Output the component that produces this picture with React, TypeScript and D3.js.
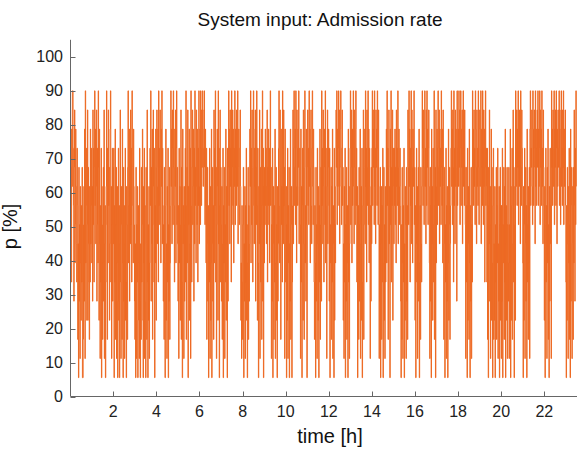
import React from "react";
import * as d3 from "d3";

// Admission-rate level (1..16) sampled once per minute; p = level * LEVEL_STEP_PCT
const LEVEL_STEP_PCT = 90 / 16;
const SAMPLES_PER_HOUR = 60;

const h00_02 = [
15,9,12,6,14,11,16,16,13,10,5,12,15,7,9,14,11,8,6,13,
10,3,8,1,12,5,9,2,11,7,4,10,6,12,1,1,3,9,11,5,
14,2,16,7,10,13,4,9,15,4,12,8,6,3,11,6,14,8,10,13,
7,11,5,15,9,13,6,12,16,10,14,8,11,15,5,9,13,7,16,12,
4,14,8,2,10,6,13,1,11,9,3,7,12,5,15,2,8,10,1,6,
11,16,9,3,13,7,15,10,12,4,8,14,16,6,11,2,9,13,5,12];
const h02_04 = [
8,13,1,10,6,14,3,9,12,2,7,11,1,5,13,4,10,1,8,15,
6,2,11,9,3,14,7,1,12,5,10,2,8,13,4,6,1,11,9,3,
12,16,7,10,14,5,11,8,15,9,13,6,16,12,10,7,14,11,9,5,
3,8,1,12,2,9,6,11,1,4,10,7,2,13,5,1,8,3,12,6,
9,14,4,1,11,7,13,2,10,5,1,12,8,3,15,6,1,9,4,11,
2,7,13,10,16,5,12,8,14,3,9,15,11,6,13,1,10,7,14,4];
const h04_06 = [
12,15,8,11,14,6,16,10,13,9,15,12,7,14,11,16,8,13,10,5,
9,3,12,7,1,10,14,4,8,2,11,6,13,1,9,5,12,3,7,10,
16,11,14,8,15,13,9,16,12,10,6,14,11,15,7,13,16,9,12,8,
5,10,2,13,7,11,4,9,15,3,12,6,1,14,8,10,2,11,5,9,
13,6,16,3,10,12,7,15,1,11,9,14,4,8,13,2,16,10,6,12,
15,9,11,14,5,13,8,16,10,12,7,15,11,9,14,6,13,10,16,8];
const h06_08 = [
11,14,9,16,13,10,15,12,16,14,11,13,15,16,12,9,14,10,7,13,
3,8,12,5,10,1,9,6,13,2,11,4,7,14,1,8,12,5,10,3,
15,7,13,10,16,6,12,2,9,14,11,4,16,8,13,1,10,15,6,12,
9,5,11,3,8,13,1,10,7,12,2,9,6,14,4,11,8,1,13,5,
12,16,10,14,8,15,11,13,6,16,9,12,15,10,14,7,13,11,16,9,
14,12,10,15,13,11,16,8,12,14,10,9,13,15,11,4,7,2,10,6];
const h08_10 = [
3,9,12,1,8,5,11,2,10,6,13,4,9,1,7,12,3,10,5,8,
14,11,16,7,13,9,15,12,6,10,16,14,8,13,11,15,5,12,9,16,
10,4,13,7,1,11,8,15,2,12,6,9,14,3,10,16,5,13,1,11,
7,12,9,14,10,13,8,11,15,6,12,10,14,9,13,7,11,16,10,12,
2,9,5,13,1,8,11,3,10,6,14,2,7,12,4,9,1,11,5,8,
13,16,10,7,15,12,3,14,9,11,6,16,13,8,15,10,12,2,14,9];
const h10_12 = [
6,11,1,9,4,13,2,10,7,12,1,8,5,14,3,9,11,1,6,10,
15,8,13,16,10,12,14,9,16,11,7,15,13,10,14,12,16,8,11,13,
9,2,14,6,11,1,10,13,4,15,8,3,12,16,7,10,5,14,9,1,
12,15,10,13,9,16,11,14,7,12,15,10,8,13,16,11,9,14,12,6,
3,10,7,1,12,5,9,2,13,8,4,11,1,10,6,14,3,9,12,5,
16,10,13,8,15,11,6,14,12,9,16,7,13,10,2,11,15,8,12,14];
const h12_14 = [
10,5,13,1,9,7,12,3,11,6,14,2,8,10,1,13,4,9,7,11,
15,12,16,9,14,11,13,16,10,15,8,12,14,16,11,9,13,15,10,12,
4,8,2,11,6,13,1,9,5,12,3,10,7,1,14,6,11,2,8,13,
16,9,12,15,7,14,10,13,16,11,8,15,12,9,14,16,10,13,6,11,
1,7,10,3,12,5,9,14,2,8,11,4,13,1,6,10,15,3,9,12,
14,8,16,11,13,6,15,10,12,16,9,14,7,13,11,2,10,5,12,8];
const h14_16 = [
13,16,10,14,12,15,9,16,11,13,8,15,12,14,10,16,13,9,15,11,
2,9,5,12,1,8,11,3,10,6,13,1,7,12,4,9,2,11,6,10,
14,7,16,10,13,3,12,15,8,11,1,14,9,16,6,12,10,15,4,13,
11,8,13,10,14,9,12,7,15,11,13,10,16,8,12,14,9,11,13,10,
5,1,9,3,12,7,2,10,6,13,1,8,4,11,9,2,12,5,10,3,
15,12,9,16,11,14,6,13,10,16,8,15,12,7,14,11,13,16,9,12];
const h16_18 = [
4,10,1,8,13,6,11,2,9,12,5,14,1,7,10,3,12,8,6,11,
16,13,10,15,12,9,14,16,11,13,8,15,10,16,12,14,9,13,15,11,
7,2,12,5,10,1,14,8,11,4,13,6,9,16,3,10,12,1,15,7,
11,14,9,13,16,10,12,15,8,14,11,13,9,16,12,10,14,7,15,11,
3,8,12,1,9,6,13,2,10,5,11,1,7,14,4,9,12,3,8,10,
13,16,11,14,9,15,12,6,16,10,13,8,15,11,14,12,5,16,10,13];
const h18_20 = [
14,11,16,12,15,9,13,16,10,14,12,15,8,13,16,11,14,10,15,12,
9,2,12,6,10,1,13,4,8,11,3,14,7,1,10,5,12,2,9,6,
16,12,14,10,15,11,13,9,16,14,12,8,15,11,13,10,16,12,9,14,
15,11,13,16,8,14,12,10,16,13,9,15,11,14,6,12,16,10,13,11,
6,13,3,10,1,12,8,15,5,11,2,9,14,4,12,7,1,10,13,3,
8,4,11,1,9,6,12,3,10,7,13,2,8,5,11,1,9,12,4,10];
const h20_22 = [
2,10,5,13,1,9,7,12,3,11,6,14,1,8,10,4,12,2,9,7,
5,12,2,9,7,14,1,11,4,10,13,3,8,15,6,12,1,9,11,4,
16,13,11,15,10,14,12,16,9,13,15,11,14,8,16,12,10,15,13,11,
7,1,11,4,9,13,2,8,12,5,10,1,14,6,9,3,11,7,12,2,
14,16,10,13,12,15,11,9,16,14,10,13,15,12,8,16,11,14,10,13,
15,12,16,10,14,11,13,16,9,15,12,14,10,16,11,13,8,15,12,10];
const h22_24 = [
4,11,1,9,13,6,10,2,12,7,14,3,9,1,11,5,13,8,10,2,
16,12,14,10,15,13,11,16,9,14,12,15,10,16,13,8,14,11,15,12,
13,16,10,15,12,9,14,16,11,13,10,15,12,16,9,14,11,13,15,10,
6,1,10,4,12,8,2,11,7,13,3,9,1,14,5,10,12,2,8,11,
3,12,7,15,10,5,13,9,16,11];

const levels = [
  ...h00_02, ...h02_04, ...h04_06, ...h06_08, ...h08_10, ...h10_12,
  ...h12_14, ...h14_16, ...h16_18, ...h18_20, ...h20_22, ...h22_24,
];

const xTicks = [2, 4, 6, 8, 10, 12, 14, 16, 18, 20, 22];
const yTicks = [0, 10, 20, 30, 40, 50, 60, 70, 80, 90, 100];

const TITLE = "System input: Admission rate";
const XLABEL = "time [h]";
const YLABEL = "p [%]";

export default function App() {
  const W = 577, H = 449;
  const x = d3.scaleLinear().domain([0, 23.5]).range([70.2, 576.6]);
  const y = d3.scaleLinear().domain([0, 105]).range([396.8, 39.8]);

  const line = d3
    .line<number>()
    .x((_, i) => x(i / SAMPLES_PER_HOUR))
    .y((d) => y(d * LEVEL_STEP_PCT))
    .curve(d3.curveStepAfter);

  const font = "'Liberation Sans', Arial, Helvetica, sans-serif";
  const axisColor = "#666";
  const x0 = 70.5;
  const yb = 396.5;

  return (
    <svg
      width={W}
      height={H}
      style={{ position: "absolute", left: 0, top: 0, background: "#fff" }}
      fontFamily={font}
    >
      <path d={line(levels) || ""} fill="none" stroke="#ED6A24" strokeWidth={1} />
      <line x1={x0} x2={x0} y1={y(105)} y2={yb} stroke={axisColor} strokeWidth={1} />
      <line x1={x0} x2={W} y1={yb} y2={yb} stroke={axisColor} strokeWidth={1} />
      {yTicks.map((t) => (
        <g key={"y" + t}>
          <line x1={x0} x2={x0 + 5} y1={Math.round(y(t)) + 0.5} y2={Math.round(y(t)) + 0.5} stroke={axisColor} />
          <text x={63} y={y(t) + 5.6} textAnchor="end" fontSize={16} fill="#222">
            {t}
          </text>
        </g>
      ))}
      {xTicks.map((t) => (
        <g key={"x" + t}>
          <line x1={Math.round(x(t)) + 0.5} x2={Math.round(x(t)) + 0.5} y1={yb} y2={yb - 5} stroke={axisColor} />
          <text x={x(t)} y={417.3} textAnchor="middle" fontSize={16} fill="#222">
            {t}
          </text>
        </g>
      ))}
      <text x={320} y={25.5} textAnchor="middle" fontSize={19} fill="#111">
        {TITLE}
      </text>
      <text x={330} y={443} textAnchor="middle" fontSize={20} fill="#111">
        {XLABEL}
      </text>
      <text
        transform="translate(16.5,226.5) rotate(-90)"
        textAnchor="middle"
        fontSize={20}
        fill="#111"
      >
        {YLABEL}
      </text>
    </svg>
  );
}
